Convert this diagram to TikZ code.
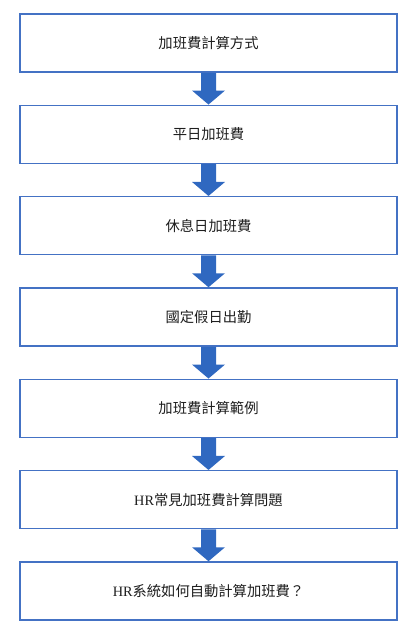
\documentclass[tikz,border=0pt]{standalone}
\usepackage{fontspec}
\setmainfont{Noto Sans CJK TC}
\newfontfamily\latinserif{Liberation Serif}
\usetikzlibrary{calc}
\definecolor{boxblue}{RGB}{68,114,196}
\definecolor{arrowblue}{RGB}{47,104,192}
\definecolor{txt}{RGB}{30,30,30}
\tikzset{
  stepbox/.style={draw=boxblue, line width=1.5pt, fill=white, minimum width=377pt, minimum height=58pt, inner sep=0pt, text=txt, font=\fontsize{14.3pt}{16pt}\selectfont},
  blockarrow/.style={fill=arrowblue, draw=none}
}
\newcommand{\flowarrow}[2]{%
  \fill[blockarrow] ($(#1.south)+(-7.5pt,0)$) -- ($(#1.south)+(7.5pt,0)$)
    -- ($(#2.north)+(7.5pt,14pt)$) -- ($(#2.north)+(16.5pt,14pt)$)
    -- (#2.north) -- ($(#2.north)+(-16.5pt,14pt)$)
    -- ($(#2.north)+(-7.5pt,14pt)$) -- cycle;}
\begin{document}
\begin{tikzpicture}[x=1pt,y=-1pt]
\useasboundingbox (0,0) rectangle (412,635);
\node[stepbox] (b1) at (208.5,43) {加班費計算方式};
\node[stepbox] (b2) at (208.5,134.3) {平日加班費};
\node[stepbox] (b3) at (208.5,225.7) {休息日加班費};
\node[stepbox] (b4) at (208.5,317) {國定假日出勤};
\node[stepbox] (b5) at (208.5,408.3) {加班費計算範例};
\node[stepbox] (b6) at (208.5,499.7) {{\latinserif HR}常見加班費計算問題};
\node[stepbox] (b7) at (208.5,591) {{\latinserif HR}系統如何自動計算加班費？};
\flowarrow{b1}{b2}
\flowarrow{b2}{b3}
\flowarrow{b3}{b4}
\flowarrow{b4}{b5}
\flowarrow{b5}{b6}
\flowarrow{b6}{b7}
\end{tikzpicture}
\end{document}
